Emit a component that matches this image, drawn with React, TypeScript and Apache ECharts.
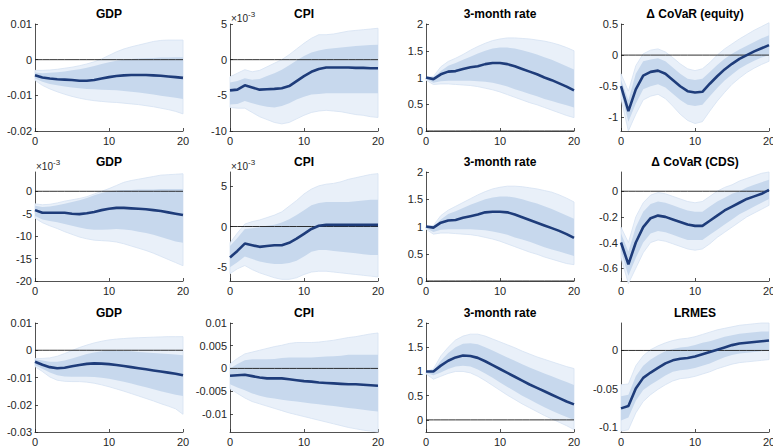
import React, { useEffect, useRef } from "react";
import * as echarts from "echarts";

// horizon (quarters)
const horizon = [0, 1, 2, 3, 4, 5, 6, 7, 8, 9, 10, 11, 12, 13, 14, 15, 16, 17, 18, 19, 20];

const titles = [
  "GDP", "CPI", "3-month rate", "Δ CoVaR (equity)",
  "GDP", "CPI", "3-month rate", "Δ CoVaR (CDS)",
  "GDP", "CPI", "3-month rate", "LRMES",
];

// y-axis limits and tick labels per panel
const yMins = [-0.02, -10, 0, -1.22, -20, -6.7, 0, -0.7, -0.03, -0.014, -0.25, -0.107];
const yMaxs = [0.01, 5, 2, 0.5, 4.3, 6.7, 2, 0.15, 0.01, 0.01, 2, 0.036];
const yTicks = [
  [-0.02, -0.01, 0, 0.01],
  [-10, -5, 0, 5],
  [0, 0.5, 1, 1.5, 2],
  [-1, -0.5, 0, 0.5],
  [-20, -15, -10, -5, 0],
  [-5, 0, 5],
  [0, 0.5, 1, 1.5, 2],
  [-0.6, -0.4, -0.2, 0],
  [-0.03, -0.02, -0.01, 0, 0.01],
  [-0.01, -0.005, 0, 0.005, 0.01],
  [0, 0.5, 1, 1.5, 2],
  [-0.1, -0.05, 0],
];
const xTicks = [0, 10, 20];
const scaledPanels = [1, 4, 5]; // axes shown in units of 10^-3

// Panel 1: GDP (row 1)
const p1Med = [-0.0044,-0.005,-0.0053,-0.0055,-0.0056,-0.0057,-0.0059,-0.0059,-0.0057,-0.0053,-0.0049,-0.0046,-0.0044,-0.0043,-0.0043,-0.0043,-0.0044,-0.0045,-0.0047,-0.0049,-0.0051];
const p1InLo = [-0.0053,-0.0062,-0.0068,-0.0072,-0.0075,-0.0078,-0.008,-0.0082,-0.0083,-0.0084,-0.0085,-0.0086,-0.0088,-0.009,-0.0092,-0.0095,-0.0098,-0.0101,-0.0104,-0.0107,-0.011];
const p1InHi = [-0.0036,-0.0038,-0.0037,-0.0035,-0.0033,-0.003,-0.0027,-0.0023,-0.0018,-0.0012,-0.0007,-0.0003,0,0.0002,0.0003,0.0004,0.0005,0.0006,0.0006,0.0007,0.0007];
const p1OutLo = [-0.0058,-0.0072,-0.0082,-0.009,-0.0097,-0.0103,-0.0108,-0.0112,-0.0115,-0.0117,-0.0119,-0.012,-0.0122,-0.0124,-0.0126,-0.0129,-0.0132,-0.0136,-0.014,-0.0145,-0.0152];
const p1OutHi = [-0.003,-0.003,-0.0029,-0.0027,-0.0024,-0.0021,-0.0017,-0.0012,-0.0006,0.0002,0.0012,0.0022,0.003,0.0036,0.0041,0.0046,0.0051,0.0054,0.0055,0.0055,0.0055];

// Panel 2: CPI (row 1), x10^-3
const p2Med = [-4.3,-4.2,-3.6,-3.9,-4.2,-4.15,-4.1,-4.0,-3.7,-3.0,-2.3,-1.7,-1.3,-1.1,-1.1,-1.1,-1.1,-1.15,-1.15,-1.2,-1.2];
const p2InLo = [-6.3,-6.2,-5.8,-6.1,-6.4,-6.6,-6.7,-6.5,-6.1,-5.6,-5.2,-4.9,-4.8,-4.7,-4.7,-4.7,-4.7,-4.7,-4.7,-4.7,-4.7];
const p2InHi = [-3.2,-3.0,-2.6,-2.8,-2.7,-2.3,-1.9,-1.4,-0.8,-0.1,0.5,1.0,1.3,1.5,1.6,1.7,1.8,1.9,2.0,2.05,2.1];
const p2OutLo = [-6.7,-6.8,-6.8,-7.4,-8.0,-8.4,-8.8,-9.0,-8.8,-8.3,-7.8,-7.4,-7.2,-7.1,-7.2,-7.3,-7.5,-7.7,-7.8,-8.0,-8.1];
const p2OutHi = [-2.4,-1.9,-1.4,-1.7,-1.5,-1.0,-0.5,0.0,0.7,1.5,2.3,3.0,3.5,3.5,3.6,3.8,4.0,4.1,4.2,4.3,4.4];

// Panel 3: 3-month rate (row 1)
const p3Med = [1.0,0.97,1.06,1.11,1.12,1.16,1.19,1.21,1.25,1.27,1.27,1.25,1.21,1.16,1.11,1.06,1.0,0.95,0.89,0.83,0.76];
const p3InLo = [0.97,0.9,0.93,0.94,0.94,0.94,0.94,0.93,0.92,0.9,0.87,0.83,0.78,0.74,0.69,0.65,0.6,0.56,0.52,0.48,0.44];
const p3InHi = [1.0,1.0,1.12,1.22,1.27,1.33,1.39,1.45,1.5,1.54,1.56,1.56,1.54,1.51,1.47,1.43,1.38,1.33,1.27,1.21,1.15];
const p3OutLo = [0.95,0.87,0.88,0.88,0.87,0.86,0.85,0.83,0.8,0.77,0.73,0.68,0.63,0.58,0.53,0.49,0.44,0.39,0.34,0.29,0.25];
const p3OutHi = [1.0,1.02,1.2,1.3,1.36,1.43,1.51,1.58,1.64,1.69,1.72,1.74,1.74,1.73,1.72,1.7,1.68,1.65,1.61,1.56,1.5];

// Panel 4: Delta CoVaR (equity)
const p4Med = [-0.5,-0.9,-0.55,-0.33,-0.27,-0.25,-0.3,-0.4,-0.5,-0.58,-0.6,-0.59,-0.46,-0.34,-0.23,-0.14,-0.06,0.0,0.06,0.11,0.16];
const p4InLo = [-0.6,-1.07,-0.78,-0.55,-0.5,-0.47,-0.52,-0.62,-0.72,-0.8,-0.82,-0.8,-0.66,-0.53,-0.41,-0.31,-0.22,-0.15,-0.09,-0.04,0.0];
const p4InHi = [-0.4,-0.72,-0.3,-0.1,-0.07,-0.05,-0.1,-0.2,-0.3,-0.38,-0.4,-0.38,-0.27,-0.16,-0.06,0.02,0.09,0.15,0.21,0.27,0.32];
const p4OutLo = [-0.7,-1.22,-0.95,-0.72,-0.66,-0.63,-0.7,-0.82,-0.95,-1.05,-1.1,-1.07,-0.9,-0.74,-0.6,-0.47,-0.37,-0.28,-0.21,-0.15,-0.1];
const p4OutHi = [-0.3,-0.58,-0.17,0.02,0.08,0.1,0.05,-0.04,-0.14,-0.22,-0.25,-0.22,-0.12,0.0,0.1,0.18,0.26,0.33,0.4,0.46,0.52];

// Panel 5: GDP (row 2), x10^-3
const p5Med = [-4.2,-4.8,-4.8,-4.8,-4.8,-5.0,-5.1,-4.9,-4.6,-4.2,-3.9,-3.7,-3.7,-3.8,-3.9,-4.0,-4.2,-4.4,-4.7,-5.0,-5.3];
const p5InLo = [-5.5,-6.3,-6.6,-6.9,-7.3,-7.7,-8.1,-8.4,-8.6,-8.6,-8.5,-8.4,-8.5,-8.7,-9.0,-9.3,-9.7,-10.2,-10.7,-11.2,-11.5];
const p5InHi = [-3.2,-3.5,-3.4,-3.1,-2.8,-2.4,-2.0,-1.5,-0.9,-0.4,0.0,0.2,0.3,0.3,0.4,0.4,0.4,0.5,0.5,0.5,0.5];
const p5OutLo = [-6.0,-7.0,-7.7,-8.3,-9.0,-9.6,-10.2,-10.6,-10.9,-11.0,-11.1,-11.3,-11.7,-12.2,-12.7,-13.2,-13.8,-14.5,-15.2,-15.9,-16.6];
const p5OutHi = [-2.8,-3.0,-2.9,-2.6,-2.2,-1.9,-1.6,-1.2,-0.6,0.0,0.6,1.3,2.0,2.4,2.7,3.0,3.3,3.6,3.7,3.8,3.9];

// Panel 6: CPI (row 2), x10^-3
const p6Med = [-3.8,-3.0,-2.1,-2.3,-2.5,-2.4,-2.3,-2.3,-2.0,-1.5,-0.9,-0.3,0.1,0.2,0.2,0.2,0.2,0.2,0.2,0.2,0.2];
const p6InLo = [-5.0,-4.4,-3.7,-4.0,-4.3,-4.5,-4.6,-4.6,-4.5,-4.2,-3.7,-3.1,-2.9,-2.9,-3.0,-3.1,-3.2,-3.3,-3.4,-3.5,-3.5];
const p6InHi = [-2.4,-1.4,-0.3,-0.2,-0.1,0.1,0.2,0.5,0.9,1.4,2.0,2.6,2.9,3.0,3.0,3.0,3.0,3.1,3.2,3.3,3.3];
const p6OutLo = [-5.8,-5.2,-4.8,-5.3,-5.7,-6.0,-6.3,-6.5,-6.5,-6.3,-5.9,-5.6,-5.5,-5.5,-5.6,-5.7,-5.8,-5.9,-6.0,-6.1,-6.2];
const p6OutHi = [-2.0,-0.8,0.3,0.6,0.8,1.1,1.4,1.8,2.5,3.2,4.0,4.6,5.0,5.2,5.3,5.5,5.8,6.0,6.2,6.4,6.5];

// Panel 7: 3-month rate (row 2)
const p7Med = [1.0,0.98,1.07,1.11,1.12,1.16,1.19,1.22,1.26,1.27,1.27,1.26,1.22,1.17,1.12,1.07,1.02,0.97,0.92,0.86,0.79];
const p7InLo = [0.97,0.9,0.94,0.95,0.95,0.95,0.95,0.94,0.93,0.91,0.88,0.85,0.8,0.76,0.72,0.67,0.62,0.58,0.54,0.5,0.46];
const p7InHi = [1.0,1.0,1.13,1.23,1.28,1.34,1.4,1.45,1.5,1.53,1.55,1.55,1.53,1.5,1.46,1.42,1.37,1.32,1.26,1.2,1.14];
const p7OutLo = [0.95,0.86,0.88,0.88,0.87,0.86,0.85,0.83,0.8,0.77,0.73,0.68,0.63,0.58,0.53,0.49,0.44,0.4,0.36,0.32,0.3];
const p7OutHi = [1.0,1.02,1.2,1.3,1.37,1.44,1.51,1.58,1.64,1.69,1.72,1.74,1.74,1.73,1.71,1.69,1.66,1.63,1.58,1.52,1.45];

// Panel 8: Delta CoVaR (CDS)
const p8Med = [-0.4,-0.57,-0.4,-0.28,-0.21,-0.19,-0.2,-0.22,-0.24,-0.26,-0.27,-0.27,-0.23,-0.19,-0.15,-0.12,-0.09,-0.06,-0.04,-0.02,0.01];
const p8InLo = [-0.47,-0.66,-0.52,-0.4,-0.33,-0.31,-0.32,-0.34,-0.36,-0.38,-0.38,-0.38,-0.34,-0.3,-0.26,-0.22,-0.18,-0.15,-0.12,-0.09,-0.06];
const p8InHi = [-0.33,-0.47,-0.28,-0.16,-0.1,-0.08,-0.09,-0.11,-0.13,-0.15,-0.16,-0.16,-0.12,-0.08,-0.05,-0.02,0.0,0.03,0.05,0.07,0.09];
const p8OutLo = [-0.52,-0.72,-0.6,-0.48,-0.4,-0.38,-0.39,-0.41,-0.43,-0.45,-0.46,-0.45,-0.41,-0.36,-0.32,-0.28,-0.24,-0.2,-0.17,-0.14,-0.11];
const p8OutHi = [-0.28,-0.4,-0.2,-0.09,-0.03,-0.01,-0.02,-0.04,-0.06,-0.08,-0.09,-0.08,-0.04,0.0,0.03,0.05,0.08,0.1,0.12,0.14,0.15];

// Panel 9: GDP (row 3)
const p9Med = [-0.0042,-0.0053,-0.0062,-0.0066,-0.0064,-0.0059,-0.0054,-0.005,-0.0048,-0.0049,-0.0051,-0.0054,-0.0058,-0.0062,-0.0066,-0.007,-0.0074,-0.0078,-0.0082,-0.0086,-0.0092];
const p9InLo = [-0.0055,-0.0068,-0.0082,-0.0092,-0.0096,-0.0097,-0.0097,-0.0097,-0.0098,-0.0101,-0.0105,-0.011,-0.0116,-0.0122,-0.0129,-0.0136,-0.0143,-0.015,-0.0157,-0.0163,-0.0168];
const p9InHi = [-0.0033,-0.0038,-0.0042,-0.0042,-0.0038,-0.003,-0.0022,-0.0014,-0.0008,-0.0004,-0.0002,-0.0002,-0.0003,-0.0004,-0.0006,-0.0008,-0.001,-0.0012,-0.0014,-0.0016,-0.0018];
const p9OutLo = [-0.006,-0.0078,-0.0098,-0.011,-0.0114,-0.0115,-0.0115,-0.0117,-0.0121,-0.0127,-0.0134,-0.0142,-0.015,-0.0159,-0.0168,-0.0177,-0.0186,-0.0196,-0.0205,-0.0215,-0.0235];
const p9OutHi = [-0.003,-0.003,-0.0028,-0.0022,-0.0012,-0.0001,0.001,0.0019,0.0027,0.0033,0.0038,0.0041,0.0043,0.0045,0.0046,0.0047,0.0048,0.0049,0.005,0.005,0.005];

// Panel 10: CPI (row 3)
const p10Med = [-0.0016,-0.0015,-0.0014,-0.0017,-0.002,-0.0022,-0.0022,-0.0022,-0.0024,-0.0026,-0.0028,-0.0029,-0.0031,-0.0032,-0.0033,-0.0034,-0.0035,-0.0035,-0.0036,-0.0037,-0.0038];
const p10InLo = [-0.0035,-0.0042,-0.0048,-0.0055,-0.006,-0.0064,-0.0066,-0.0069,-0.0071,-0.0073,-0.0075,-0.0077,-0.0079,-0.0081,-0.0083,-0.0085,-0.0087,-0.0089,-0.0091,-0.0093,-0.0095];
const p10InHi = [0.0,0.001,0.0018,0.002,0.002,0.002,0.0021,0.0023,0.0024,0.0024,0.0024,0.0024,0.0025,0.0026,0.0027,0.0028,0.003,0.003,0.003,0.003,0.003];
const p10OutLo = [-0.0045,-0.0055,-0.0065,-0.0073,-0.0078,-0.0083,-0.0088,-0.0093,-0.0098,-0.0102,-0.0106,-0.011,-0.0114,-0.0118,-0.0122,-0.0126,-0.013,-0.0133,-0.0136,-0.0138,-0.014];
const p10OutHi = [0.001,0.0022,0.0032,0.0036,0.004,0.0044,0.0048,0.0051,0.0055,0.0057,0.0057,0.0057,0.0058,0.006,0.0062,0.0065,0.0068,0.007,0.0073,0.0076,0.0078];

// Panel 11: 3-month rate (row 3)
const p11Med = [1.0,1.0,1.12,1.22,1.29,1.33,1.32,1.28,1.21,1.13,1.05,0.97,0.89,0.81,0.73,0.66,0.59,0.52,0.45,0.38,0.32];
const p11InLo = [0.97,0.92,0.98,1.05,1.1,1.12,1.1,1.04,0.96,0.87,0.77,0.68,0.59,0.5,0.42,0.34,0.26,0.19,0.12,0.06,0.0];
const p11InHi = [1.0,1.02,1.22,1.38,1.5,1.57,1.58,1.56,1.5,1.43,1.36,1.29,1.22,1.15,1.08,1.02,0.96,0.9,0.84,0.78,0.72];
const p11OutLo = [0.95,0.84,0.9,0.96,1.0,1.0,0.97,0.9,0.81,0.71,0.61,0.51,0.42,0.33,0.25,0.17,0.09,0.02,-0.05,-0.12,-0.2];
const p11OutHi = [1.0,1.05,1.32,1.5,1.65,1.73,1.77,1.77,1.73,1.67,1.61,1.55,1.49,1.42,1.36,1.3,1.25,1.2,1.15,1.1,1.06];

// Panel 12: LRMES
const p12Med = [-0.076,-0.073,-0.05,-0.036,-0.029,-0.023,-0.017,-0.013,-0.011,-0.01,-0.008,-0.005,-0.002,0.001,0.004,0.007,0.009,0.01,0.011,0.012,0.013];
const p12InLo = [-0.092,-0.088,-0.066,-0.052,-0.045,-0.039,-0.033,-0.028,-0.026,-0.025,-0.023,-0.02,-0.017,-0.013,-0.009,-0.006,-0.004,-0.003,-0.002,-0.001,0.0];
const p12InHi = [-0.06,-0.058,-0.034,-0.02,-0.012,-0.006,-0.001,0.002,0.004,0.005,0.007,0.01,0.012,0.015,0.018,0.02,0.022,0.023,0.024,0.025,0.025];
const p12OutLo = [-0.106,-0.104,-0.082,-0.067,-0.058,-0.051,-0.045,-0.04,-0.037,-0.036,-0.034,-0.031,-0.028,-0.024,-0.021,-0.018,-0.016,-0.015,-0.014,-0.013,-0.012];
const p12OutHi = [-0.045,-0.044,-0.02,-0.007,0.001,0.006,0.01,0.013,0.015,0.016,0.018,0.021,0.024,0.027,0.029,0.031,0.033,0.034,0.035,0.036,0.036];

const medians = [p1Med, p2Med, p3Med, p4Med, p5Med, p6Med, p7Med, p8Med, p9Med, p10Med, p11Med, p12Med];
const innerLo = [p1InLo, p2InLo, p3InLo, p4InLo, p5InLo, p6InLo, p7InLo, p8InLo, p9InLo, p10InLo, p11InLo, p12InLo];
const innerHi = [p1InHi, p2InHi, p3InHi, p4InHi, p5InHi, p6InHi, p7InHi, p8InHi, p9InHi, p10InHi, p11InHi, p12InHi];
const outerLo = [p1OutLo, p2OutLo, p3OutLo, p4OutLo, p5OutLo, p6OutLo, p7OutLo, p8OutLo, p9OutLo, p10OutLo, p11OutLo, p12OutLo];
const outerHi = [p1OutHi, p2OutHi, p3OutHi, p4OutHi, p5OutHi, p6OutHi, p7OutHi, p8OutHi, p9OutHi, p10OutHi, p11OutHi, p12OutHi];

// layout (pixels)
const COL_LEFT = [35, 230, 426, 621];
const COL_W = 148;
const ROW_TOP = [24, 172, 323];
const ROW_H = [107, 109, 109];

const FONT = "'Liberation Sans', Arial, Helvetica, sans-serif";
const AXIS_COLOR = "#262626";
const MED_COLOR = "#1e3c7a";
const INNER_COLOR = "#c7d8ed";
const OUTER_COLOR = "#e9f0f9";
const OUTER_EDGE = "#d5e2f2";

function bandSeries(i: number, lo: number[], hi: number[], fill: string, stroke: string, z: number) {
  return {
    type: "custom",
    xAxisIndex: i,
    yAxisIndex: i,
    silent: true,
    z,
    clip: false,
    data: horizon.map((h, k) => [h, lo[k], hi[k]]),
    encode: { x: 0, y: [1, 2] },
    renderItem: (params: any, api: any) => {
      if (params.dataIndex !== 0) return null;
      const pts: number[][] = [];
      for (let k = 0; k < horizon.length; k++) pts.push(api.coord([horizon[k], hi[k]]));
      for (let k = horizon.length - 1; k >= 0; k--) pts.push(api.coord([horizon[k], lo[k]]));
      return {
        type: "polygon",
        shape: { points: pts },
        style: { fill, stroke, lineWidth: stroke === "none" ? 0 : 0.8 },
      };
    },
  };
}

function buildOption() {
  const grid: any[] = [];
  const xAxis: any[] = [];
  const yAxis: any[] = [];
  const series: any[] = [];
  const graphic: any[] = [];

  for (let i = 0; i < 12; i++) {
    const r = Math.floor(i / 4);
    const c = i % 4;
    const left = COL_LEFT[c];
    const top = ROW_TOP[r];
    grid.push({
      left, top, width: COL_W, height: ROW_H[r],
      containLabel: false, outerBoundsMode: "none", show: false,
    });
    xAxis.push({
      type: "value", gridIndex: i, min: 0, max: 20, interval: 10,
      axisLine: { show: true, onZero: false, lineStyle: { color: AXIS_COLOR, width: 0.8 } },
      axisTick: { show: true, inside: true, length: 3, lineStyle: { color: AXIS_COLOR, width: 0.8 } },
      axisLabel: { show: true, color: AXIS_COLOR, fontSize: 11, fontFamily: FONT, margin: 4, customValues: xTicks },
      splitLine: { show: false },
    });
    yAxis.push({
      type: "value", gridIndex: i, min: yMins[i], max: yMaxs[i],
      axisLine: { show: true, onZero: false, lineStyle: { color: AXIS_COLOR, width: 0.8 } },
      axisTick: { show: true, inside: true, length: 3, customValues: yTicks[i], lineStyle: { color: AXIS_COLOR, width: 0.8 } },
      axisLabel: { show: true, color: AXIS_COLOR, fontSize: 11, fontFamily: FONT, margin: 3, customValues: yTicks[i] },
      splitLine: { show: false },
    });

    const common = { xAxisIndex: i, yAxisIndex: i, showSymbol: false, symbol: "none", silent: true };
    const pair = (a: number[]) => horizon.map((h, k) => [h, a[k]]);

    series.push(bandSeries(i, outerLo[i], outerHi[i], OUTER_COLOR, OUTER_EDGE, 1));
    series.push(bandSeries(i, innerLo[i], innerHi[i], INNER_COLOR, "none", 2));
    // zero line
    series.push({
      ...common, type: "line", name: `zero${i}`,
      data: horizon.map((h) => [h, 0]), lineStyle: { color: "#1a1a1a", width: 0.9 }, z: 3,
    });
    // median
    series.push({
      ...common, type: "line", name: `median${i}`,
      data: pair(medians[i]), lineStyle: { color: MED_COLOR, width: 2.6 }, z: 4,
    });

    graphic.push({
      type: "text", x: left + COL_W / 2, y: top - 10,
      style: {
        text: titles[i], fill: "#000", font: `bold 12px ${FONT}`,
        textAlign: "center", textVerticalAlign: "middle",
      },
    });

    if (scaledPanels.includes(i)) {
      graphic.push({
        type: "text", x: left + 1, y: top - 6,
        style: { text: "×10", fill: AXIS_COLOR, font: `10px ${FONT}`, textAlign: "left", textVerticalAlign: "middle" },
      });
      graphic.push({
        type: "text", x: left + 18, y: top - 10,
        style: { text: "-3", fill: AXIS_COLOR, font: `8px ${FONT}`, textAlign: "left", textVerticalAlign: "middle" },
      });
    }
  }

  return {
    animation: false,
    backgroundColor: "#ffffff",
    textStyle: { fontFamily: FONT },
    grid, xAxis, yAxis, series, graphic,
  };
}

export default function App() {
  const ref = useRef<HTMLDivElement>(null);
  useEffect(() => {
    document.body.style.margin = "0";
    if (!ref.current) return;
    const chart = echarts.init(ref.current, null, { renderer: "svg" });
    chart.setOption(buildOption() as any);
    return () => chart.dispose();
  }, []);
  return <div ref={ref} style={{ width: 773, height: 448 }} />;
}
